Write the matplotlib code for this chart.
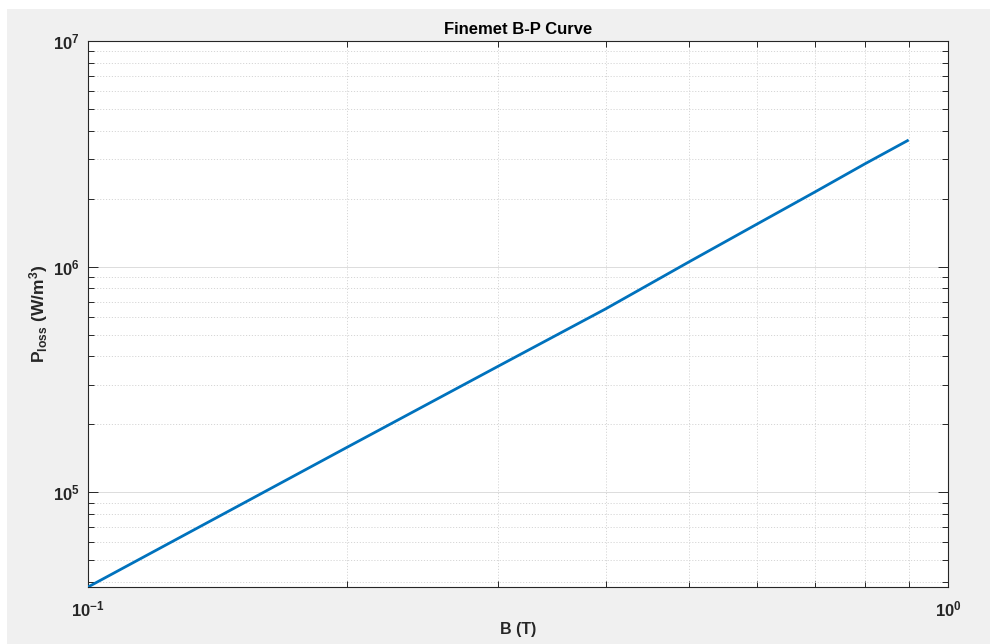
import math
import matplotlib
matplotlib.use("Agg")
import matplotlib.pyplot as plt
from matplotlib.patches import Rectangle
from matplotlib.ticker import LogLocator, FuncFormatter, NullFormatter

# Core loss of Finemet versus flux density
b_tesla = [0.1, 0.2, 0.3, 0.4, 0.5, 0.6, 0.7, 0.8, 0.9]
p_loss = [3.8e4, 1.58e5, 3.62e5, 6.50e5, 1.05e6, 1.545e6, 2.14e6, 2.85e6, 3.64e6]

x_limits = [0.1, 1.0]
y_limits = [3.8e4, 1.0e7]

title_text = "Finemet B-P Curve"
xlabel_text = "B (T)"
ylabel_text = r"$\mathbf{P_{loss}\ (W/m^{3})}$"

plt.rcParams["font.family"] = ["Liberation Sans", "DejaVu Sans"]
plt.rcParams["mathtext.fontset"] = "custom"
plt.rcParams["mathtext.rm"] = "Liberation Sans:bold"
plt.rcParams["mathtext.it"] = "Liberation Sans:bold"
plt.rcParams["mathtext.bf"] = "Liberation Sans:bold"

W, H = 990, 644
fig = plt.figure(figsize=(W / 100, H / 100), dpi=100)
fig.patch.set_facecolor("white")
# grey window background with a thin white border at the left and top
fig.patches.append(Rectangle((7 / W, 0), 1, (H - 9) / H, transform=fig.transFigure,
                             facecolor="#F0F0F0", edgecolor="none", zorder=-10))

ax = fig.add_axes([88 / W, (H - 587) / H, (948 - 88) / W, (587 - 41) / H])
ax.set_facecolor("white")

ax.plot(b_tesla, p_loss, color="#0072BD", lw=2.0, solid_capstyle="butt", zorder=3)

ax.set_xscale("log")
ax.set_yscale("log")
ax.set_xlim(x_limits)
ax.set_ylim(y_limits)

ax.xaxis.set_major_locator(LogLocator(base=10, numticks=10))
ax.yaxis.set_major_locator(LogLocator(base=10, numticks=10))
ax.xaxis.set_minor_locator(LogLocator(base=10, subs=range(2, 10), numticks=20))
ax.yaxis.set_minor_locator(LogLocator(base=10, subs=range(2, 10), numticks=20))


def pow_label(v, pos):
    e = int(round(math.log10(v)))
    return r"$\mathbf{10^{%d}}$" % e


ax.xaxis.set_major_formatter(FuncFormatter(pow_label))
ax.yaxis.set_major_formatter(FuncFormatter(pow_label))
ax.xaxis.set_minor_formatter(NullFormatter())
ax.yaxis.set_minor_formatter(NullFormatter())

ax.grid(True, which="major", ls="-", color="#DCDCDC", lw=0.7, zorder=0)
ax.grid(True, which="minor", ls=(0, (1.2, 1.8)), color="#D6D6D6", lw=0.7, zorder=0)
ax.set_axisbelow(True)

for s in ax.spines.values():
    s.set_color("#262626")
    s.set_linewidth(0.8)

ax.tick_params(which="both", direction="in", top=True, right=True,
               color="#262626", width=0.7)
ax.tick_params(which="major", length=7, labelsize=12, labelcolor="#262626")
ax.tick_params(which="minor", length=4)
ax.tick_params(axis="x", which="major", pad=9)
ax.tick_params(axis="y", which="major", pad=6)

ax.set_title(title_text, fontsize=12, fontweight="bold", color="black", pad=5)
ax.set_xlabel(xlabel_text, fontsize=11.5, fontweight="bold", color="#262626", labelpad=2)
ax.set_ylabel(ylabel_text, fontsize=12.5, color="#262626", labelpad=2)

fig.savefig("out.png", dpi=100, facecolor=fig.get_facecolor())
